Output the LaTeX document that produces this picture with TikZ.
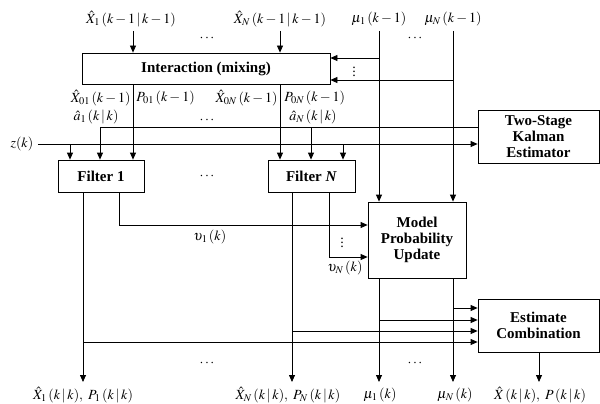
\documentclass[tikz,border=0pt]{standalone}
\usepackage{mathptmx}
\usepackage{fontspec}
\setmainfont{Liberation Serif}
\usetikzlibrary{arrows.meta}

\begin{document}
\begin{tikzpicture}[x=1pt, y=-1pt, line width=0.8pt,
    box/.style={draw, align=center, inner sep=0pt, font=\fontsize{15}{16}\selectfont\bfseries},
    lab/.style={inner sep=0pt, font=\fontsize{14}{16}\selectfont},
    arr/.style={-{Triangle[width=6pt, length=7pt]}}]

    \useasboundingbox (0,0) rectangle (600,404);

    \node[box, minimum width=248pt, minimum height=31pt] (mix) at (206,68.5) {Interaction (mixing)};
    \node[box, minimum width=86pt, minimum height=32pt] (f1) at (101,176) {Filter 1};
    \node[box, minimum width=87pt, minimum height=32pt] (fN) at (311.5,176) {Filter \textit{N}};
    \node[box, minimum width=121pt, minimum height=53pt] (tsk) at (538.5,136.5) {Two-Stage\\Kalman\\Estimator};
    \node[box, minimum width=98pt, minimum height=76pt] (mpu) at (417,240) {Model\\Probability\\Update};
    \node[box, minimum width=121pt, minimum height=53pt] (comb) at (538.5,325.5) {Estimate\\Combination};

    \node[lab] (xin1) at (131,19) {$\hat{X}_1\,(k-1\,|\,k-1)$};
    \node[lab] (xinN) at (280,19) {$\hat{X}_N\,(k-1\,|\,k-1)$};
    \node[lab] (muin1) at (379,19) {$\mu_1\,(k-1)$};
    \node[lab] (muinN) at (453,19) {$\mu_N\,(k-1)$};
    \node[lab] at (207,38) {$\cdots$};
    \node[lab] at (415,38) {$\cdots$};

    \coordinate (c1) at (133,31);
    \coordinate (cN) at (280,31);
    \coordinate (m1) at (379,31);
    \coordinate (mN) at (453,31);
    \draw[arr] (c1) -- (c1 |- mix.north);
    \draw[arr] (cN) -- (cN |- mix.north);
    \draw[arr] (m1) -- (m1 |- mpu.north);
    \draw[arr] (mN) -- (mN |- mpu.north);

    \coordinate (k1) at (379,58);
    \coordinate (kN) at (453,80);
    \draw[arr] (k1) -- (mix.east |- k1);
    \draw[arr] (kN) -- (mix.east |- kN);
    \node[lab] at (354,69) {$\vdots$};

    \draw[arr] (c1 |- mix.south) -- (c1 |- f1.north);
    \draw[arr] (cN |- mix.south) -- (cN |- fN.north);
    \node[lab, anchor=east] (x01) at (131,98) {$\hat{X}_{01}\,(k-1)$};
    \node[lab, anchor=west] (p01) at (136,98) {$P_{01}\,(k-1)$};
    \node[lab, anchor=east] (x0N) at (278,98) {$\hat{X}_{0N}\,(k-1)$};
    \node[lab, anchor=west] (p0N) at (284,98) {$P_{0N}\,(k-1)$};
    \node[lab] (a1lab) at (96,117) {$\hat{a}_1\,(k\,|\,k)$};
    \node[lab] (aNlab) at (313,117) {$\hat{a}_N\,(k\,|\,k)$};
    \node[lab] at (207,120) {$\cdots$};

    \coordinate (a1) at (100,127);
    \coordinate (aN) at (311,127);
    \draw (tsk.west |- a1) -- (a1);
    \draw[arr] (a1) -- (a1 |- f1.north);
    \draw[arr] (aN) -- (aN |- fN.north);

    \node[lab] (z) at (22,144) {$z(k)$};
    \coordinate (z1) at (70,144);
    \coordinate (zN) at (343,144);
    \draw[arr] (z.east) ++(4,0) -- (tsk.west |- z);
    \draw[arr] (z1) -- (z1 |- f1.north);
    \draw[arr] (zN) -- (zN |- fN.north);

    \node[lab] at (207,176) {$\cdots$};

    \coordinate (v1) at (119,225);
    \coordinate (vN) at (329,257);
    \draw[arr] (v1 |- f1.south) -- (v1) -- (mpu.west |- v1);
    \draw[arr] (vN |- fN.south) -- (vN) -- (mpu.west |- vN);
    \node[lab] (v1lab) at (210,237) {$\upsilon_1\,(k)$};
    \node[lab] (vNlab) at (345,268) {$\upsilon_N\,(k)$};
    \node[lab] at (342,240) {$\vdots$};

    \coordinate (o1) at (83,382);
    \coordinate (oN) at (292,382);
    \coordinate (u1) at (379,382);
    \coordinate (uN) at (453,382);
    \coordinate (oc) at (539,382);
    \draw[arr] (o1 |- f1.south) -- (o1);
    \draw[arr] (oN |- fN.south) -- (oN);
    \draw[arr] (u1 |- mpu.south) -- (u1);
    \draw[arr] (uN |- mpu.south) -- (uN);
    \draw[arr] (oc |- comb.south) -- (oc);

    \coordinate (e1) at (83,342);
    \coordinate (eN) at (292,331);
    \coordinate (eu1) at (379,320);
    \coordinate (euN) at (453,308);
    \draw[arr] (e1) -- (comb.west |- e1);
    \draw[arr] (eN) -- (comb.west |- eN);
    \draw[arr] (eu1) -- (comb.west |- eu1);
    \draw[arr] (euN) -- (comb.west |- euN);

    \node[lab] at (207,363) {$\cdots$};
    \node[lab] at (415,363) {$\cdots$};

    \node[lab] (xo1) at (83,395) {$\hat{X}_1\,(k\,|\,k),\ P_1\,(k\,|\,k)$};
    \node[lab] (xoN) at (288,395) {$\hat{X}_N\,(k\,|\,k),\ P_N\,(k\,|\,k)$};
    \node[lab] (mu1) at (380,395) {$\mu_1\,(k)$};
    \node[lab] (muN) at (455,395) {$\mu_N\,(k)$};
    \node[lab] (xo) at (540,395) {$\hat{X}\,(k\,|\,k),\ P\,(k\,|\,k)$};

\end{tikzpicture}
\end{document}
